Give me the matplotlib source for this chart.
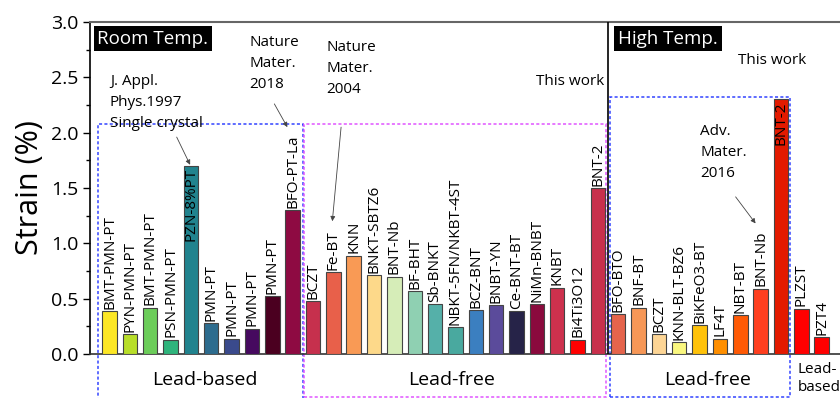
import matplotlib
matplotlib.use("Agg")
import matplotlib.pyplot as plt
from matplotlib.patches import Rectangle
from matplotlib.ticker import MultipleLocator, FormatStrFormatter

plt.rcParams["font.family"] = ["Open Sans", "DejaVu Sans"]

# room temperature, lead-based
LB_LABELS = ["BMT-PMN-PT", "PYN-PMN-PT", "BMT-PMN-PT", "PSN-PMN-PT", "PZN-8%PT",
             "PMN-PT", "PMN-PT", "PMN-PT", "PMN-PT", "BFO-PT-La"]
LB_VALUES = [0.39, 0.18, 0.42, 0.13, 1.70, 0.28, 0.14, 0.23, 0.52, 1.30]
LB_COLORS = ["#FDE725", "#B8DE29", "#6CCD5A", "#2FB47C", "#21838E",
             "#2D6C8E", "#3A4A8C", "#46095F", "#4B0020", "#8E0A42"]

# room temperature, lead-free
LF_LABELS = ["BCZT", "Fe-BT", "KNN", "BNKT-SBTZ6", "BNT-Nb", "BF-BHT", "Sb-BNKT",
             "NBKT-5FN/NKBT-4ST", "BCZ-BNT", "BNBT-YN", "Ce-BNT-BT", "NiMn-BNBT",
             "KNBT", "Bi4Ti3O12", "BNT-2"]
LF_VALUES = [0.48, 0.74, 0.89, 0.71, 0.70, 0.57, 0.45, 0.24, 0.40, 0.44, 0.39,
             0.45, 0.60, 0.13, 1.50]
LF_COLORS = ["#C6304D", "#E8604A", "#F99A55", "#FDD98A", "#D6EDB8", "#8FD0B2",
             "#55B0A9", "#49A99F", "#3B7FC0", "#5B4B9B", "#262348", "#8A0A3D",
             "#CD314D", "#FF0000", "#C8304C"]

# high temperature
HT_LABELS = ["BFO-BTO", "BNF-BT", "BCZT", "KNN-BLT-BZ6", "BiKFeO3-BT", "LF4T",
             "NBT-BT", "BNT-Nb", "BNT-2", "PLZST", "PZT4"]
HT_VALUES = [0.36, 0.42, 0.18, 0.11, 0.26, 0.14, 0.35, 0.59, 2.30, 0.41, 0.15]
HT_COLORS = ["#E5644C", "#F69757", "#FDD595", "#FAF77F", "#FFC20A", "#FF8F00",
             "#FF5A05", "#FF3F1F", "#E31A00", "#FF0000", "#FF0000"]

labels = LB_LABELS + LF_LABELS + HT_LABELS
values = LB_VALUES + LF_VALUES + HT_VALUES
colors = LB_COLORS + LF_COLORS + HT_COLORS
x = list(range(len(values)))
inside = {"PZN-8%PT", "BNT-2"}

fig = plt.figure(figsize=(8.4, 3.98), dpi=100)
ax = fig.add_axes([90 / 840, 44 / 398, 750 / 840, 332 / 398])

ax.bar(x, values, width=0.71, color=colors, edgecolor="#444444", linewidth=0.8, zorder=3)

for i, (lab, v) in enumerate(zip(labels, values)):
    if lab in inside and v > 1.6:
        ax.text(i, v - 0.02, lab, rotation=90, ha="center", va="top", fontsize=11, zorder=4)
    else:
        ax.text(i, v + 0.02, lab, rotation=90, ha="center", va="bottom", fontsize=11, zorder=4)

ax.set_xlim(-0.96, 35.9)
ax.set_ylim(0, 3.0)
ax.set_xticks([])
ax.yaxis.set_major_locator(MultipleLocator(0.5))
ax.yaxis.set_minor_locator(MultipleLocator(0.25))
ax.yaxis.set_major_formatter(FormatStrFormatter("%.1f"))
ax.tick_params(axis="y", which="major", direction="out", length=5, width=1, labelsize=14)
ax.tick_params(axis="y", which="minor", direction="out", length=3, width=1)
ax.set_ylabel("Strain (%)", fontsize=22, labelpad=4)

ax.spines["right"].set_visible(False)
ax.spines["top"].set_color("#666666")
ax.spines["top"].set_linewidth(1.5)
ax.spines["left"].set_linewidth(1.2)
ax.spines["bottom"].set_color("#333333")
ax.spines["bottom"].set_linewidth(1.2)

# room / high temperature divider
ax.plot([24.5, 24.5], [0, 3.0], color="black", lw=1.2, zorder=5)

dash = (0, (2, 1.5))
ax.add_patch(Rectangle((-0.55, -0.45), 10.06, 2.53, fill=False, ec="#3344FF",
                       lw=1.1, ls=dash, clip_on=False, zorder=2))
ax.add_patch(Rectangle((9.56, -0.39), 14.84, 2.47, fill=False, ec="#E055FF",
                       lw=1.1, ls=dash, clip_on=False, zorder=2))
ax.add_patch(Rectangle((24.6, -0.39), 8.84, 2.71, fill=False, ec="#3344FF",
                       lw=1.1, ls=dash, clip_on=False, zorder=2))

box = dict(boxstyle="square,pad=0.2", fc="black", ec="none")
ax.text(-0.6, 2.93, "Room Temp.", color="white", fontsize=13.5, va="top", ha="left", bbox=box)
ax.text(25.0, 2.93, "High Temp.", color="white", fontsize=13.5, va="top", ha="left", bbox=box)

note = dict(fontsize=11, va="top", ha="left", linespacing=1.55)
ax.text(0.02, 2.53, "J. Appl.\nPhys.1997\nSingle crystal", **note)
ax.text(6.86, 2.88, "Nature\nMater.\n2018", **note)
ax.text(10.67, 2.84, "Nature\nMater.\n2004", **note)
ax.text(20.96, 2.53, "This work", **note)
ax.text(30.87, 2.72, "This work", **note)
ax.text(29.02, 2.08, "Adv.\nMater.\n2016", **note)

arrow = dict(arrowstyle="-|>", color="#444444", lw=0.6, mutation_scale=7, shrinkA=0, shrinkB=0)
ax.annotate("", xy=(3.96, 1.71), xytext=(3.30, 1.96), arrowprops=arrow)
ax.annotate("", xy=(8.74, 2.05), xytext=(8.10, 2.26), arrowprops=arrow)
ax.annotate("", xy=(10.95, 1.20), xytext=(11.38, 2.05), arrowprops=arrow)
ax.annotate("", xy=(31.75, 1.18), xytext=(30.77, 1.42), arrowprops=arrow)

grp = dict(fontsize=14, ha="center", va="center", clip_on=False)
ax.text(4.69, -0.235, "Lead-based", **grp)
ax.text(16.8, -0.235, "Lead-free", **grp)
ax.text(29.4, -0.235, "Lead-free", **grp)
ax.text(33.82, -0.07, "Lead-\nbased", fontsize=11, ha="left", va="top", linespacing=1.3,
        clip_on=False)

fig.savefig("out.png", dpi=100)
